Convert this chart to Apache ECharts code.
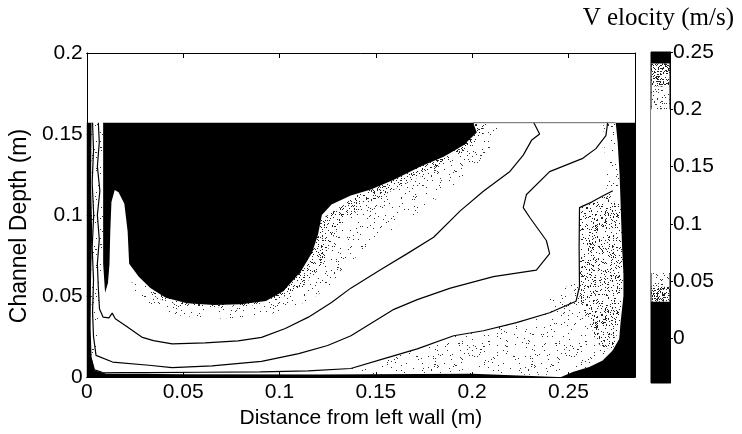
<!DOCTYPE html>
<html>
<head>
<meta charset="utf-8">
<script src="https://cdn.jsdelivr.net/npm/echarts@6/dist/echarts.min.js"></script>
<style>html,body{margin:0;padding:0;background:#fff}#c{width:742px;height:434px}</style>
</head>
<body>
<div id="c"></div>
<script>
// ---------------- data ----------------
const xRange = [0, 0.2845];
const yRange = [0, 0.2];
const cbRange = [-0.039, 0.25];
const xTicks = [0, 0.05, 0.1, 0.15, 0.2, 0.25];
const yTicks = [0, 0.05, 0.1, 0.15, 0.2];
const cbTicks = [0, 0.05, 0.1, 0.15, 0.2, 0.25];
// colour-bar band edges (velocity, m/s)
const cbEdges = [-0.039, 0.032, 0.045, 0.057, 0.2, 0.22, 0.24, 0.25];
const waterSurface = 0.157;

// high-velocity core (> 0.24 m/s)
const coreHigh = [[0.0085,0.157],[0.2005,0.157],[0.2024,0.151],[0.1955,0.143],[0.1852,0.136],[0.1732,0.130],[0.1594,0.1218],[0.1474,0.1157],[0.137,0.112],[0.127,0.1065],[0.122,0.1],[0.12,0.088],[0.117,0.077],[0.111,0.065],[0.102,0.053],[0.093,0.047],[0.08,0.045],[0.066,0.0445],[0.052,0.0455],[0.041,0.049],[0.033,0.055],[0.027,0.062],[0.022,0.070],[0.0212,0.09],[0.0195,0.107],[0.0165,0.114],[0.0145,0.1155],[0.0128,0.108],[0.0122,0.09],[0.0118,0.07],[0.011,0.058],[0.0095,0.052],[0.0085,0.07]];
// transition band around the core (0.20 - 0.24 m/s)
const coreEdgeDense = [[0.2005,0.157],[0.206,0.157],[0.206,0.15],[0.196,0.139],[0.18,0.128],[0.16,0.116],[0.145,0.106],[0.133,0.096],[0.127,0.085],[0.123,0.07],[0.113,0.057],[0.1,0.048],[0.085,0.044],[0.065,0.043],[0.05,0.044],[0.04,0.047],[0.03,0.053],[0.05,0.06],[0.1,0.08],[0.15,0.12]];
const coreEdgeSparse = [[0.207,0.157],[0.215,0.157],[0.212,0.145],[0.2,0.128],[0.185,0.113],[0.17,0.1],[0.155,0.088],[0.143,0.078],[0.133,0.066],[0.125,0.055],[0.115,0.047],[0.1,0.04],[0.085,0.037],[0.065,0.036],[0.048,0.038],[0.036,0.043],[0.026,0.05],[0.02,0.058],[0.05,0.06],[0.1,0.08],[0.15,0.12]];
// low-velocity zones (< 0.032 m/s)
const rightWallLow = [[0.2745,0.157],[0.2845,0.157],[0.2845,0],[0.246,0],[0.2522,0.0032],[0.2608,0.0063],[0.2677,0.0103],[0.2729,0.0164],[0.2763,0.0235],[0.277,0.0336],[0.2785,0.05],[0.2785,0.064],[0.2778,0.08],[0.2771,0.1046],[0.2765,0.125],[0.2755,0.145]];
const leftWallLow = [[0,0.157],[0.0025,0.157],[0.0022,0.12],[0.0028,0.09],[0.0022,0.06],[0.002,0.03],[0.0025,0.012],[0.004,0.004],[0.01,0.0022],[0.05,0.0018],[0.12,0.0016],[0.2,0.002],[0.246,0],[0,0]];
// transition zones near the walls (0.032 - 0.057 m/s)
const rightEdgeDense = [[0.2557,0.105],[0.262,0.108],[0.268,0.112],[0.2771,0.106],[0.2785,0.064],[0.277,0.035],[0.2729,0.0164],[0.266,0.02],[0.26,0.035],[0.2557,0.048]];
const bottomEdgeSparse = [[0.15,0.0015],[0.246,0.0015],[0.2608,0.0063],[0.2729,0.0164],[0.276,0.03],[0.262,0.062],[0.2557,0.06],[0.24,0.05],[0.2402,0.0397],[0.223,0.0336],[0.2058,0.0286],[0.1904,0.0255],[0.1715,0.0174],[0.1543,0.0114],[0.137,0.0053]];
const topRightSparse = [[0.268,0.157],[0.2745,0.157],[0.2771,0.105],[0.27,0.11]];
const leftEdgeSparse = [[0.0025,0.157],[0.0085,0.157],[0.0085,0.07],[0.0075,0.05],[0.006,0.03],[0.004,0.012],[0.0025,0.01]];

// contour lines
const contourA = [[0.006,0.157],[0.0065,0.145],[0.0055,0.13],[0.0068,0.115],[0.0055,0.1],[0.0065,0.085],[0.0055,0.07],[0.006,0.055],[0.0066,0.042],[0.0085,0.037],[0.0115,0.0365],[0.0132,0.0395],[0.0148,0.036],[0.020,0.0318],[0.0289,0.0245],[0.0346,0.0225],[0.0443,0.0205],[0.0614,0.0211],[0.0785,0.0223],[0.0907,0.0245],[0.103,0.030],[0.115,0.037],[0.127,0.046],[0.137,0.0549],[0.152,0.066],[0.1663,0.0762],[0.180,0.0863],[0.1938,0.1026],[0.2058,0.1147],[0.2196,0.1269],[0.2265,0.137],[0.2308,0.1461],[0.235,0.150],[0.232,0.157]];
const contourB = [[0.003,0.157],[0.0035,0.14],[0.0028,0.12],[0.0036,0.1],[0.0028,0.08],[0.0035,0.06],[0.003,0.04],[0.0035,0.025],[0.0048,0.0134],[0.0134,0.0093],[0.0323,0.0073],[0.0443,0.0058],[0.065,0.0069],[0.0907,0.0097],[0.11,0.0145],[0.125,0.0195],[0.1371,0.0255],[0.1594,0.0418],[0.1715,0.0478],[0.1887,0.0549],[0.211,0.062],[0.2333,0.066],[0.2402,0.0762],[0.2385,0.0843],[0.2299,0.0985],[0.2265,0.1046],[0.2282,0.1127],[0.2402,0.1268],[0.2574,0.135],[0.2642,0.141],[0.2694,0.149],[0.2703,0.157]];
const contourC = [[0.0022,0.012],[0.004,0.0045],[0.008,0.003],[0.03,0.0028],[0.06,0.003],[0.09,0.0032],[0.115,0.0038],[0.137,0.0053],[0.1543,0.0114],[0.1715,0.0174],[0.1904,0.0255],[0.2058,0.0286],[0.223,0.0336],[0.2402,0.0397],[0.2539,0.0468],[0.2557,0.056],[0.2555,0.08],[0.2557,0.1046],[0.262,0.108],[0.2677,0.1117],[0.273,0.115]];

// ---------------- styling helpers ----------------
const FONT = 'Liberation Sans';
function hash01(x, y, seed) {
  let n = (Math.imul(x, 374761393) + Math.imul(y, 668265263) + Math.imul(seed, 1013904223)) | 0;
  n = Math.imul(n ^ (n >>> 13), 1274126177);
  n = n ^ (n >>> 16);
  return (n >>> 0) / 4294967296;
}
function speckle(density, seed, color) {
  const s = 97, c = document.createElement('canvas');
  c.width = c.height = s;
  const ctx = c.getContext('2d');
  ctx.fillStyle = color;
  for (let y = 0; y < s; y++) for (let x = 0; x < s; x++)
    if (hash01(x, y, seed) < density) ctx.fillRect(x, y, 1, 1);
  return c;
}
const SPARSE = { image: speckle(0.03, 3, '#333'), repeat: 'repeat' };
const DENSE = { image: speckle(0.12, 7, '#222'), repeat: 'repeat' };
const CB_SPARSE = { image: speckle(0.08, 5, '#333'), repeat: 'repeat' };
const CB_DENSE = { image: speckle(0.3, 9, '#222'), repeat: 'repeat' };

function polySeries(points, fill, z) {
  return {
    type: 'custom', xAxisIndex: 0, yAxisIndex: 0, z: z, silent: true, clip: true,
    data: points,
    renderItem: function (params, api) {
      if (params.dataIndex !== 0) return null;
      return { type: 'polygon', shape: { points: points.map(function (p) { return api.coord(p); }) },
               style: { fill: fill, stroke: null } };
    }
  };
}
function lineSeries(points, color, width, z) {
  return { type: 'line', xAxisIndex: 0, yAxisIndex: 0, data: points, showSymbol: false, silent: true, z: z,
           lineStyle: { color: color, width: width }, clip: true };
}

const cbBands = [];
for (let i = 0; i < cbEdges.length - 1; i++) cbBands.push([cbEdges[i], cbEdges[i + 1]]);
const cbFills = ['#000', CB_DENSE, CB_SPARSE, '#fff', CB_SPARSE, CB_DENSE, '#000'];

const axisLbl = { color: '#000', fontFamily: FONT, fontSize: 21 };
const boxLine = { show: true, onZero: false, lineStyle: { color: '#000', width: 1 } };

const option = {
  animation: false,
  backgroundColor: '#fff',
  title: { text: 'V elocity (m/s)', right: 3, top: 1,
           textStyle: { fontFamily: 'Liberation Serif', fontSize: 25, fontWeight: 'normal', color: '#000' } },
  grid: [
    { left: 84, right: 107, top: 53, bottom: 52, show: false },
    { left: 651, right: 72, top: 52, bottom: 51, show: true, borderColor: '#000', borderWidth: 1, backgroundColor: 'transparent' }
  ],
  xAxis: [
    { gridIndex: 0, type: 'value', min: xRange[0], max: xRange[1], position: 'bottom',
      axisLine: boxLine, splitLine: { show: false },
      axisTick: { inside: true, length: 5, customValues: xTicks, lineStyle: { color: '#000' } },
      axisLabel: Object.assign({ margin: 5, customValues: xTicks }, axisLbl),
      name: 'Distance from left wall (m)', nameLocation: 'middle', nameGap: 28,
      nameTextStyle: { color: '#000', fontFamily: FONT, fontSize: 21 } },
    { gridIndex: 0, type: 'value', min: xRange[0], max: xRange[1], position: 'top',
      axisLine: boxLine, splitLine: { show: false },
      axisTick: { inside: true, length: 5, customValues: xTicks, lineStyle: { color: '#000' } },
      axisLabel: { show: false } },
    { gridIndex: 1, type: 'value', min: 0, max: 1, show: false }
  ],
  yAxis: [
    { gridIndex: 0, type: 'value', min: yRange[0], max: yRange[1], position: 'left',
      axisLine: boxLine, splitLine: { show: false },
      axisTick: { inside: true, length: 5, customValues: yTicks, lineStyle: { color: '#000' } },
      axisLabel: Object.assign({ margin: 4, customValues: yTicks }, axisLbl),
      name: 'Channel Depth (m)', nameLocation: 'middle', nameGap: 51,
      nameTextStyle: { color: '#000', fontFamily: FONT, fontSize: 23, padding: [0, 22, 0, 0] } },
    { gridIndex: 0, type: 'value', min: yRange[0], max: yRange[1], position: 'right',
      axisLine: boxLine, splitLine: { show: false },
      axisTick: { inside: true, length: 5, customValues: yTicks, lineStyle: { color: '#000' } },
      axisLabel: { show: false } },
    { gridIndex: 1, type: 'value', min: cbRange[0], max: cbRange[1], position: 'right',
      axisLine: boxLine, splitLine: { show: false },
      axisTick: { inside: false, length: 3, customValues: cbTicks, lineStyle: { color: '#000' } },
      axisLabel: Object.assign({ margin: 3, customValues: cbTicks }, axisLbl) }
  ],
  series: [
    polySeries(coreEdgeSparse, SPARSE, 1),
    polySeries(coreEdgeDense, DENSE, 2),
    polySeries(bottomEdgeSparse, SPARSE, 1),
    polySeries(topRightSparse, SPARSE, 1),
    polySeries(leftEdgeSparse, SPARSE, 1),
    polySeries(rightEdgeDense, DENSE, 2),
    polySeries(coreHigh, '#000', 3),
    polySeries(rightWallLow, '#000', 3),
    polySeries(leftWallLow, '#000', 3),
    lineSeries(contourA, '#000', 1.2, 4),
    lineSeries(contourB, '#000', 1.2, 4),
    lineSeries(contourC, '#000', 1.2, 4),
    lineSeries([[coreHigh[1][0], waterSurface], [rightWallLow[0][0], waterSurface]], '#666', 1, 4),
    {
      type: 'custom', xAxisIndex: 2, yAxisIndex: 2, silent: true, z: 1,
      data: cbBands,
      renderItem: function (params, api) {
        const b = cbBands[params.dataIndex];
        const p1 = api.coord([0, b[1]]), p2 = api.coord([1, b[0]]);
        return { type: 'rect', shape: { x: p1[0], y: p1[1], width: p2[0] - p1[0], height: p2[1] - p1[1] },
                 style: { fill: cbFills[params.dataIndex], stroke: null } };
      }
    }
  ]
};
const chart = echarts.init(document.getElementById('c'), null, { renderer: 'canvas' });
chart.setOption(option);
</script>
</body>
</html>
